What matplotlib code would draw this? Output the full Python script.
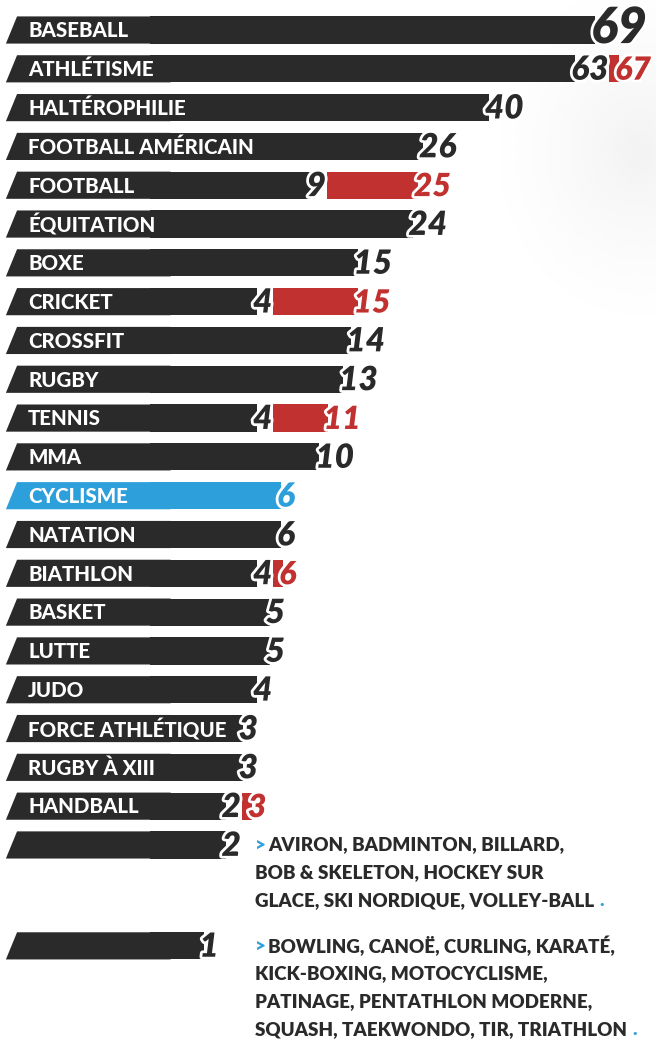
import numpy as np
import matplotlib
matplotlib.use('Agg')
from matplotlib import pyplot as plt
from matplotlib import transforms
from matplotlib.patches import Polygon
import matplotlib.patheffects as pe

plt.rcParams['font.family'] = ['Lato', 'DejaVu Sans']

# donnees
sports = ['BASEBALL', 'ATHLÉTISME', 'HALTÉROPHILIE', 'FOOTBALL AMÉRICAIN', 'FOOTBALL',
          'ÉQUITATION', 'BOXE', 'CRICKET', 'CROSSFIT', 'RUGBY', 'TENNIS', 'MMA',
          'CYCLISME', 'NATATION', 'BIATHLON', 'BASKET', 'LUTTE', 'JUDO',
          'FORCE ATHLÉTIQUE', 'RUGBY À XIII', 'HANDBALL', '', '']
valeurs = [69, 63, 40, 26, 9, 24, 15, 4, 14, 13, 4, 10, 6, 6, 4, 5, 5, 4, 3, 3, 2, 2, 1]
valeurs_rouge = [None, 67, None, None, 25, None, None, 15, None, None, 11, None,
                 None, None, 6, None, None, None, None, None, 3, None, None]
surligne = 'CYCLISME'

groupe_2 = ['AVIRON, BADMINTON, BILLARD,',
            'BOB & SKELETON, HOCKEY SUR',
            'GLACE, SKI NORDIQUE, VOLLEY-BALL']
groupe_1 = ['BOWLING, CANOË, CURLING, KARATÉ,',
            'KICK-BOXING, MOTOCYCLISME,',
            'PATINAGE, PENTATHLON MODERNE,',
            'SQUASH, TAEKWONDO, TIR, TRIATHLON']

NOIR = '#2a2a2b'
ROUGE = '#c1312f'
BLEU = '#2d9fda'

fig = plt.figure(figsize=(6.56, 10.39), dpi=100)

# leger degrade gris en haut a droite
bg = fig.add_axes([0, 0, 1, 1], zorder=0)
gx, gy = np.meshgrid(np.linspace(0, 656, 220), np.linspace(0, 1039, 350))
d = np.sqrt(((gx - 640) / 170) ** 2 + ((gy - 150) / 200) ** 2)
bg.imshow(1 - 0.05 * np.clip(1 - d, 0, 1) ** 1.5, cmap='gray', vmin=0, vmax=1,
          extent=[0, 656, 1039, 0], aspect='auto', interpolation='bilinear')
bg.axis('off')

ax = fig.add_axes([0, 0, 1, 1], zorder=1)
ax.patch.set_alpha(0)

def fwd(v):
    return np.sign(v) * np.sqrt(np.abs(v))

def inv(s):
    return np.sign(s) * s ** 2

ax.set_xscale('function', functions=(fwd, inv))
ax.set_xlim(-7.82, 89.1)

# positions des lignes (la derniere est decalee pour le texte)
ypos = list(range(len(sports)))
ypos[-1] = 23.6
ax.set_ylim(26.0, -0.773)
ax.axis('off')

h = 0.70
mix = transforms.blended_transform_factory(ax.transAxes, ax.transData)
contour = [pe.withStroke(linewidth=4, foreground='white')]

nombres = {}
for i in range(len(sports)):
    y = ypos[i]
    v = valeurs[i]
    col = BLEU if sports[i] == surligne else NOIR
    # onglet gauche en biseau
    tab = Polygon([(0.009, y + h / 2), (0.026, y - h / 2), (0.26, y - h / 2), (0.26, y + h / 2)],
                  closed=True, transform=mix, facecolor=col, edgecolor='none', zorder=2)
    ax.add_patch(tab)
    ax.barh(y, v, left=0, height=h, color=col, zorder=2)
    fs = 36 if i == 0 else 24
    dy = 1 if i == 0 else -1
    nombres[i] = ax.annotate(str(v), xy=(v, y), xytext=(-3, dy), textcoords='offset points',
                             ha='left', va='center', fontsize=fs, style='italic',
                             weight='heavy', color=col, zorder=5, path_effects=contour)
    if sports[i]:
        ax.text(0.043, y + 0.02, sports[i], transform=mix, ha='left', va='center',
                fontsize=14.8, weight='black', color='white', zorder=6)

# segments rouges : ils commencent apres le chiffre noir
fig.canvas.draw()
rend = fig.canvas.get_renderer()
for i in range(len(sports)):
    if valeurs_rouge[i] is None:
        continue
    y = ypos[i]
    x_g = nombres[i].get_window_extent(rend).x1 + 1
    x_d = max(ax.transData.transform((valeurs_rouge[i], y))[0], x_g + 10)
    g = ax.transData.inverted().transform((x_g, 0))[0]
    dr = ax.transData.inverted().transform((x_d, 0))[0]
    ax.barh(y, dr - g, left=g, height=h, color=ROUGE, zorder=1.5)
    ax.annotate(str(valeurs_rouge[i]), xy=(dr, y), xytext=(-3, -1),
                textcoords='offset points', ha='left', va='center', fontsize=23,
                style='italic', weight='heavy', color=ROUGE, zorder=4,
                path_effects=contour)

# listes des sports a 2 et 1
lh = 28 / 38.8
for debut, lignes in [(ypos[21], groupe_2), (ypos[22], groupe_1)]:
    ax.text(0.389, debut, '>', transform=mix, ha='left', va='center', fontsize=13.5,
            weight='heavy', color=BLEU)
    for k, ligne in enumerate(lignes):
        x0 = 0.409 if k == 0 else 0.389
        t = ax.text(x0, debut + k * lh, ligne, transform=mix, ha='left', va='center',
                    fontsize=13.5, weight='heavy', color=NOIR)
    ax.annotate('.', xy=(1, 0.5), xycoords=t, xytext=(4, 0), textcoords='offset points',
                ha='left', va='center', fontsize=13.5, weight='heavy', color=BLEU)

plt.savefig('out.png', dpi=100)
